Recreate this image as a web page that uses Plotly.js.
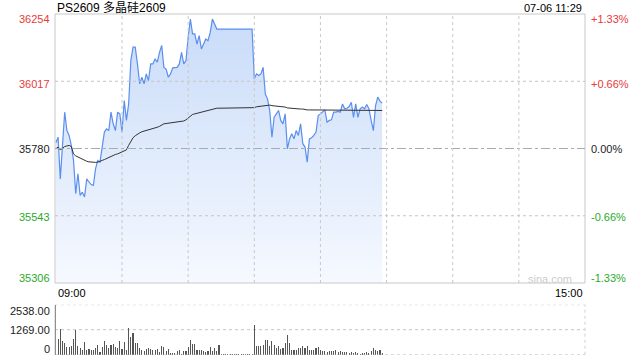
<!DOCTYPE html>
<html>
<head>
<meta charset="utf-8">
<script src="https://cdn.plot.ly/plotly-3.0.1.min.js"></script>
<style>html,body{margin:0;padding:0;background:#fff;}#chart{width:640px;height:360px;}</style>
</head>
<body>
<div id="chart"></div>
<script>
// ---- data ----
const titleText = 'PS2609 多晶硅2609';
const timeText = '07-06 11:29';
const axisStartLabel = '09:00';
const axisEndLabel = '15:00';
const totalMinutes = 240;
const gridMinutes = [30, 60, 90, 120, 150, 180, 210];

const priceTicks = [36254, 36017, 35780, 35543, 35306];
const pctLabels = ['+1.33%', '+0.66%', '0.00%', '-0.66%', '-1.33%'];
const tickColors = ['#e83a3a', '#e83a3a', '#222222', '#2aaa2a', '#2aaa2a'];
const labelShift = [-5, -2.5, 0, -1, 5.5];

const volTicks = [2538, 1269, 0];
const volLabels = ['2538.00', '1269.00', '0'];
const volShift = [-6.5, 0, 5.7];

const price = [
  35800,35820,35673,35808,35908,35843,35826,35791,35738,35621,
  35691,35615,35626,35609,35673,35662,35653,35650,35709,35738,
  35732,35785,35838,35849,35843,35908,35867,35843,35908,35902,
  35838,35949,35879,35937,36090,36137,36137,36078,36008,36031,
  36008,36043,36019,36078,36078,36096,36084,36119,36143,36066,
  36060,36031,36043,36064,36066,36066,36078,36119,36078,36090,
  36172,36236,36184,36184,36148,36178,36131,36148,36166,36160,
  36189,36236,36219,36201,36201,
  36201,36201,36201,36201,36201,36201,36201,36201,36201,36201,36201,36201,36201,36201,36201,
  36025,36043,36037,36043,36066,35972,35955,35914,35820,35890,
  35902,35914,35879,35867,35902,35779,35814,35832,35814,35843,
  35826,35867,35797,35785,35732,35814,35818,35826,35838,35896,
  35902,35908,35916,35873,35879,35881,35908,35908,35911,35908,
  35937,35920,35922,35928,35943,35890,35937,35890,35920,35926,
  35920,35935,35920,35879,35843,35931,35961,35947,35940
];

const avgPrice = [
  35779,35785,35775,35782,35787,35789,35791,35787,35761,35754,
  35750,35746,35741,35738,35735,35733,35732,35731,35731,35732,
  35734,35738,35741,35745,35748,35752,35755,35759,35761,35764,
  35767,35771,35775,35791,35806,35818,35825,35831,35835,35839,
  35841,35843,35846,35848,35850,35853,35855,35858,35862,35867,
  35868,35869,35869,35870,35872,35873,35874,35876,35877,35881,
  35888,35895,35900,35902,35904,35906,35908,35910,35911,35914,
  35916,35919,35921,35922,35922,
  35922,35922,35922,35922,35922,35922,35922,35922,35922,35922,35922,35922,35922,35922,35922,
  35924,35927,35928,35929,35930,35931,35931,35933,35931,35930,
  35929,35929,35929,35928,35926,35923,35922,35921,35921,35920,
  35920,35919,35919,35917,35916,35916,35916,35915,35915,35915,
  35915,35915,35915,35915,35915,35915,35915,35915,35915,35915,
  35915,35915,35915,35915,35914,35914,35914,35914,35914,35914,
  35914,35914,35914,35914,35914,35914,35914,35914,35914
];

const volume = [
  2538,812,1303,711,592,389,389,423,795,1252,
  457,338,254,660,237,288,237,237,338,474,
  135,389,711,474,338,508,541,389,338,694,
  288,660,254,1354,897,1100,592,592,338,237,
  186,288,338,288,220,237,288,135,423,372,
  203,305,85,85,68,169,220,34,186,203,
  389,761,541,541,220,220,220,169,135,203,
  372,203,338,203,474,51,
  30,30,30,30,30,30,30,30,30,30,30,30,30,30,
  1523,457,423,423,490,761,761,457,677,508,
  338,423,288,338,592,1015,592,254,254,220,
  338,338,423,338,457,254,220,254,338,372,
  254,169,169,118,186,169,186,220,118,169,
  118,135,118,85,118,101,118,85,51,85,
  68,118,101,169,338,254,169,220,85
];

const minutes = price.map((_, i) => i);

// ---- chart ----
const W = 640, H = 360, L = 55, R = 55;
const mainTop = 14, mainBot = 283, volTop = 304.7, volBot = 354.7;
const px = v => (v - L) / (W - L - R);
const py = v => 1 - v / H;

const traces = [
  {
    x: minutes, y: price, type: 'scatter', mode: 'lines',
    xaxis: 'x', yaxis: 'y',
    line: {color: '#5b8fee', width: 1.2},
    fill: 'tozeroy',
    fillcolor: 'rgba(205,222,248,0.8)',
    fillgradient: {type: 'vertical', start: priceTicks[4], stop: priceTicks[0],
      colorscale: [[0, 'rgba(246,249,255,1)'], [1, 'rgba(200,219,248,1)']]},
    hoverinfo: 'skip'
  },
  {
    x: minutes, y: avgPrice, type: 'scatter', mode: 'lines',
    xaxis: 'x', yaxis: 'y',
    line: {color: '#333333', width: 1},
    hoverinfo: 'skip'
  },
  {
    x: minutes, y: volume, type: 'bar',
    xaxis: 'x2', yaxis: 'y2',
    width: 0.5,
    marker: {color: '#555555', line: {width: 0}},
    hoverinfo: 'skip'
  }
];

const shapes = [];
shapes.push({type: 'rect', xref: 'x domain', yref: 'y domain', x0: 0, x1: 1, y0: 0, y1: 1,
  line: {color: '#c8c8c8', width: 1}, layer: 'above'});
priceTicks.forEach((v, i) => {
  if (i === 0 || i === priceTicks.length - 1) return;
  const mid = i === 2;
  shapes.push({type: 'line', xref: 'x domain', yref: 'y', x0: 0, x1: 1, y0: v, y1: v,
    line: {color: mid ? '#aaaaaa' : '#c4c4c4', width: 1, dash: mid ? 'dashdot' : 'dot'}, layer: 'above'});
});
gridMinutes.forEach(m => {
  shapes.push({type: 'line', xref: 'x', yref: 'y domain', x0: m, x1: m, y0: 0, y1: 1,
    line: {color: '#c8c8c8', width: 1, dash: 'dot'}, layer: 'above'});
});
shapes.push({type: 'line', xref: 'x2 domain', yref: 'y2 domain', x0: 0, x1: 0, y0: 0, y1: 1,
  line: {color: '#c8c8c8', width: 1}});
shapes.push({type: 'line', xref: 'x2 domain', yref: 'y2 domain', x0: 1, x1: 1, y0: 0, y1: 1,
  line: {color: '#d0d0d0', width: 1, dash: 'dot'}});
volTicks.forEach(v => {
  shapes.push({type: 'line', xref: 'x2 domain', yref: 'y2', x0: 0, x1: 1, y0: v, y1: v,
    line: {color: '#c4c4c4', width: 1, dash: 'dot'}, layer: 'below'});
});

const font = 'Liberation Sans, Arial, Noto Sans CJK SC, sans-serif';
const annotations = [];
annotations.push({text: titleText, xref: 'paper', yref: 'paper', x: px(55), y: py(7.5),
  xanchor: 'left', yanchor: 'middle', showarrow: false, font: {size: 12, color: '#000', family: font}});
annotations.push({text: timeText, xref: 'paper', yref: 'paper', x: px(584), y: py(7.5),
  xanchor: 'right', yanchor: 'middle', showarrow: false, font: {size: 11, color: '#000', family: font}});
priceTicks.forEach((v, i) => {
  annotations.push({text: String(v), xref: 'paper', yref: 'y', x: px(52), y: v, yshift: labelShift[i],
    xanchor: 'right', yanchor: 'middle', showarrow: false, font: {size: 11, color: tickColors[i], family: font}});
  annotations.push({text: pctLabels[i], xref: 'paper', yref: 'y', x: px(589), y: v, yshift: labelShift[i],
    xanchor: 'left', yanchor: 'middle', showarrow: false, font: {size: 11, color: tickColors[i], family: font}});
});
volTicks.forEach((v, i) => {
  annotations.push({text: volLabels[i], xref: 'paper', yref: 'y2', x: px(52), y: v, yshift: volShift[i],
    xanchor: 'right', yanchor: 'middle', showarrow: false, font: {size: 11, color: '#222', family: font}});
});
annotations.push({text: axisStartLabel, xref: 'x', yref: 'paper', x: 0, y: py(293),
  xanchor: 'left', yanchor: 'middle', showarrow: false, font: {size: 11, color: '#000', family: font}});
annotations.push({text: axisEndLabel, xref: 'x', yref: 'paper', x: totalMinutes, y: py(293),
  xanchor: 'right', yanchor: 'middle', showarrow: false, font: {size: 11, color: '#000', family: font}});
annotations.push({text: 'sina.com', xref: 'paper', yref: 'paper', x: px(574), y: py(278.5),
  xanchor: 'right', yanchor: 'middle', showarrow: false, font: {size: 11, color: '#cccccc', family: font}});

const hidden = {showgrid: false, zeroline: false, showticklabels: false, ticks: '', showline: false, fixedrange: true};
const layout = {
  width: W, height: H,
  margin: {l: L, r: R, t: 0, b: 0, pad: 0},
  paper_bgcolor: '#ffffff', plot_bgcolor: 'rgba(0,0,0,0)',
  showlegend: false,
  font: {family: font, size: 11, color: '#000'},
  bargap: 0,
  xaxis: Object.assign({}, hidden, {domain: [0, 1], range: [-0.4, totalMinutes], anchor: 'y'}),
  yaxis: Object.assign({}, hidden, {domain: [py(mainBot), py(mainTop)], range: [priceTicks[4], priceTicks[0]], anchor: 'x'}),
  xaxis2: Object.assign({}, hidden, {domain: [0, 1], range: [-0.4, totalMinutes], anchor: 'y2'}),
  yaxis2: Object.assign({}, hidden, {domain: [py(volBot), py(volTop)], range: [0, volTicks[0]], anchor: 'x2'}),
  shapes: shapes,
  annotations: annotations
};

Plotly.newPlot('chart', traces, layout, {staticPlot: true, displayModeBar: false});
</script>
</body>
</html>
